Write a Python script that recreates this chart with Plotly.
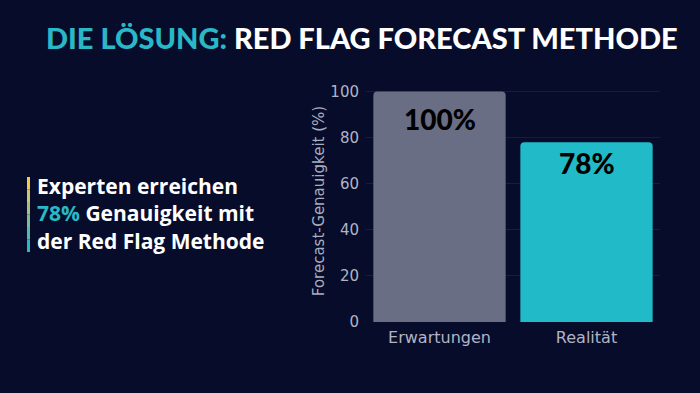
import plotly.graph_objects as go

categories = ["Erwartungen", "Realität"]
values = [100, 78]
labels = ["100%", "78%"]
bar_colors = ["#6a6e85", "#20bac8"]
y_ticks = [0, 20, 40, 60, 80, 100]

BG = "#070c2b"
TEAL = "#2ab7c6"
TICK = "#b1b4c4"

fig = go.Figure()
fig.add_trace(go.Bar(
    x=categories, y=values,
    marker=dict(color=bar_colors, line=dict(width=0)),
    width=0.9, hoverinfo="x+y",
))

label_shift = [-27, -21]
for c, v, t, s in zip(categories, values, labels, label_shift):
    fig.add_annotation(x=c, y=v, text=t, showarrow=False, yanchor="middle",
                       yshift=s,
                       font=dict(family="Lato", size=28, color="#000000", weight=900))

fig.update_layout(
    width=700, height=393,
    paper_bgcolor=BG, plot_bgcolor=BG,
    margin=dict(l=366, r=40, t=80, b=71),
    showlegend=False,
    barcornerradius=4,
    xaxis=dict(tickfont=dict(family="DejaVu Sans", size=16, color=TICK),
               showgrid=False, zeroline=False, showline=False, ticks="",
               ticklabelstandoff=4),
    yaxis=dict(range=[0, 105], tickvals=y_ticks,
               tickfont=dict(family="DejaVu Sans", size=15, color=TICK),
               title=dict(text="Forecast-Genauigkeit (%)",
                          font=dict(family="DejaVu Sans", size=15, color="#a9adbd"),
                          standoff=2),
               gridcolor="rgba(255,255,255,0.07)", zeroline=False, showline=False,
               ticks="", ticklabelstandoff=6),
)

fig.add_annotation(
    xref="paper", yref="paper", x=(362 - 366) / 294, y=1 + (80 - 38) / 242,
    xanchor="center", yanchor="middle", showarrow=False,
    text=f"<span style='color:{TEAL}'>DIE LÖSUNG:</span> RED FLAG FORECAST METHODE",
    font=dict(family="Lato", size=29, color="#ffffff", weight=900),
)

# left gradient bar
grad = ["#f2c94c", "#cfc56a", "#a8c07f", "#7dbc98", "#55b9ae", "#2ab7c6"]
top, bottom = 177, 252
seg = (bottom - top) / len(grad)
for i, c in enumerate(grad):
    fig.add_shape(type="rect", xref="paper", yref="paper",
                  x0=(27 - 366) / 294, x1=(30 - 366) / 294,
                  y0=(322 - (top + seg * (i + 1))) / 242,
                  y1=(322 - (top + seg * i)) / 242,
                  fillcolor=c, line=dict(width=0), layer="above")

side_lines = ["Experten erreichen",
              f"<span style='color:{TEAL}'>78%</span> Genauigkeit mit",
              "der Red Flag Methode"]
fig.add_annotation(
    xref="paper", yref="paper", x=(35 - 366) / 294,
    y=(322 - 213) / 242,
    xanchor="left", yanchor="middle", align="left", showarrow=False,
    text="<br>".join(side_lines),
    font=dict(family="Open Sans", size=21, color="#ffffff", weight="bold"),
)

fig.write_html("out.html", config={"displayModeBar": False},
               post_script="document.body.style.margin='0';")
